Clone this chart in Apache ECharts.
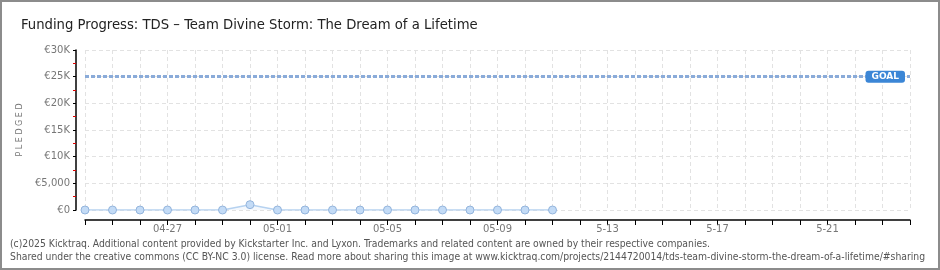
<!DOCTYPE html>
<html>
<head>
<meta charset="utf-8">
<script src="https://cdn.jsdelivr.net/npm/echarts@6/dist/echarts.min.js"></script>
<style>
  html, body { margin: 0; padding: 0; background: #fff; }
  #chart { width: 940px; height: 270px; box-sizing: border-box; border: 2px solid #8c8c8c; }
</style>
</head>
<body>
<div id="chart"></div>
<script>
// days shown on the x axis
const days = ['04-24', '04-25', '04-26', '04-27', '04-28', '04-29', '04-30', '05-01', '05-02', '05-03',
  '05-04', '05-05', '05-06', '05-07', '05-08', '05-09', '05-10', '05-11', '5-12', '5-13',
  '5-14', '5-15', '5-16', '5-17', '5-18', '5-19', '5-20', '5-21', '5-22', '5-23', '5-24']
// pledged per day (only the first 18 days have data)
const pledged = [0, 0, 0, 0, 0, 0, 1000, 0, 0, 0, 0, 0, 0, 0, 0, 0, 0, 0]
const goal = 25000
const yTickLabels = ['€0', '€5,000', '€10K', '€15K', '€20K', '€25K', '€30K']

const narrow = '"DejaVu Sans Condensed", "Liberation Sans", sans-serif'

const chart = echarts.init(document.getElementById('chart'))

chart.setOption({
  animation: false,
  title: {
    left: 14,
    top: 11,
    text: 'Funding Progress: TDS – Team Divine Storm: The Dream of a Lifetime',
    textStyle: {
      fontFamily: narrow,
      fontWeight: 'normal',
      fontSize: 14.7,
      color: '#222',
    },
  },
  grid: {
    left: 83,
    right: 28,
    top: 48,
    bottom: 58,
  },
  xAxis: {
    type: 'category',
    data: days,
    boundaryGap: false,
    offset: 10,
    axisLine: { onZero: false, lineStyle: { color: '#000', width: 1.5 } },
    axisTick: { interval: 0, length: 5, lineStyle: { color: '#000' } },
    axisLabel: {
      interval: (i) => i % 4 === 3,
      color: '#777',
      fontSize: 10,
      fontFamily: 'DejaVu Sans',
      margin: 4,
    },
    splitLine: {
      show: true,
      interval: 0,
      lineStyle: { color: '#e2e2e2', type: [4, 3] },
    },
  },
  yAxis: {
    type: 'value',
    min: 0,
    max: 30000,
    interval: 5000,
    offset: 9,
    name: 'P L E D G E D',
    nameLocation: 'middle',
    nameGap: 46,
    nameTextStyle: { color: '#777', fontSize: 8, fontFamily: 'DejaVu Sans' },
    axisLine: { show: true, lineStyle: { color: '#000', width: 1.5 } },
    axisTick: { show: true, length: 3, lineStyle: { color: '#000' } },
    minorTick: { show: true, splitNumber: 2, length: 3, lineStyle: { color: '#e00000' } },
    axisLabel: {
      formatter: (v) => yTickLabels[v / 5000],
      color: '#777',
      fontSize: 10,
      fontFamily: 'DejaVu Sans',
      margin: 6,
    },
    splitLine: { lineStyle: { color: '#e2e2e2', type: [4, 3] } },
  },
  series: [{
    type: 'line',
    data: pledged,
    symbol: 'circle',
    symbolSize: 8,
    itemStyle: { color: '#c3dbf6', borderColor: '#93b4dc', borderWidth: 1 },
    lineStyle: { color: '#b6d2f0', width: 1.5 },
    areaStyle: { color: 'rgba(190,215,245,0.25)' },
    markLine: {
      silent: true,
      symbol: 'none',
      data: [{ yAxis: goal }],
      lineStyle: { color: '#8aabd9', width: 3, type: [4, 2] },
      label: {
        position: 'insideEnd',
        formatter: 'GOAL',
        color: '#fff',
        fontSize: 9,
        fontWeight: 'bold',
        fontFamily: 'DejaVu Sans',
        backgroundColor: '#3b86d6',
        padding: [2, 6, 1, 6],
        borderRadius: 3,
        verticalAlign: 'middle',
        distance: [5, 0],
      },
    },
  }],
  graphic: [
    {
      type: 'text',
      left: 8,
      top: 237,
      style: {
        text: '(c)2025 Kicktraq. Additional content provided by Kickstarter Inc. and Lyxon. Trademarks and related content are owned by their respective companies.',
        fill: '#555',
        font: '10.3px ' + narrow,
      },
    },
    {
      type: 'text',
      left: 8,
      top: 250,
      style: {
        text: 'Shared under the creative commons (CC BY-NC 3.0) license. Read more about sharing this image at www.kicktraq.com/projects/2144720014/tds-team-divine-storm-the-dream-of-a-lifetime/#sharing',
        fill: '#555',
        font: '10.3px ' + narrow,
      },
    },
  ],
})
</script>
</body>
</html>
